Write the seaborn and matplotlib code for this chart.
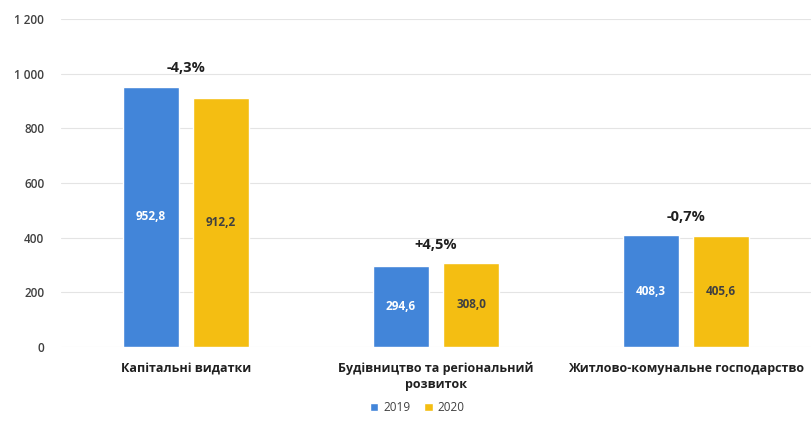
import matplotlib
matplotlib.use("Agg")
import matplotlib.pyplot as plt
import seaborn as sns
import pandas as pd
from matplotlib.ticker import FuncFormatter

categories = ["Капітальні видатки", "Будівництво та регіональний\nрозвиток",
              "Житлово-комунальне господарство"]
years = ["2019", "2020"]
values_2019 = [952.8, 294.6, 408.3]
values_2020 = [912.2, 308.0, 405.6]
changes = ["-4,3%", "+4,5%", "-0,7%"]
yticks = [0, 200, 400, 600, 800, 1000, 1200]

df = pd.DataFrame({
    "cat": categories * 2,
    "year": [years[0]] * 3 + [years[1]] * 3,
    "value": values_2019 + values_2020,
})

sns.set_theme(style="white")
plt.rcParams["font.family"] = ["Open Sans", "DejaVu Sans"]

fig = plt.figure(figsize=(8.11, 4.21), dpi=100)
ax = fig.add_axes([61 / 811, 74 / 421, 750 / 811, 328 / 421])

colors = ["#4285D9", "#F4BE12"]
sns.barplot(data=df, x="cat", y="value", hue="year", palette=colors,
            width=0.56, gap=0.21, ax=ax, legend=True, saturation=1)

ax.set_xlim(-0.5, 2.5)
ax.set_ylim(0, 1200)
ax.set_yticks(yticks)
ax.yaxis.set_major_formatter(FuncFormatter(lambda v, p: f"{int(v):,}".replace(",", " ")))
ax.grid(axis="y", color="#E4E4E4", linewidth=0.8)
ax.set_axisbelow(True)
for s in ax.spines.values():
    s.set_visible(False)
ax.set_xlabel("")
ax.set_ylabel("")
ax.tick_params(axis="y", labelsize=8.5, colors="#404040", length=0, pad=12)
ax.tick_params(axis="x", labelsize=9, length=0, pad=11)
for t in ax.get_xticklabels():
    t.set_fontweight("bold")
    t.set_color("#202020")
    t.set_linespacing(1.3)
for t in ax.get_yticklabels():
    t.set_fontweight("semibold")

# value labels
for ci, cont in enumerate(ax.containers):
    for bar in cont:
        h = bar.get_height()
        txt = f"{h:.1f}".replace(".", ",")
        ax.text(bar.get_x() + bar.get_width() / 2, h / 2, txt,
                ha="center", va="center", fontsize=8.5, fontweight="bold",
                color="white" if ci == 0 else "#404040")

# change labels
for i, ch in enumerate(changes):
    top = max(values_2019[i], values_2020[i])
    ax.annotate(ch, (i, top), xytext=(0, 8), textcoords="offset points",
                ha="center", va="bottom", fontsize=10.5, fontweight="bold",
                color="#202020")

leg = ax.legend(loc="upper center", bbox_to_anchor=(0.475, -0.14), ncol=2,
                frameon=False, fontsize=8.5, handlelength=0.7, handleheight=0.7,
                columnspacing=1.2, handletextpad=0.4, borderpad=0.2)
for t in leg.get_texts():
    t.set_color("#404040")

fig.savefig("out.png", dpi=100)
